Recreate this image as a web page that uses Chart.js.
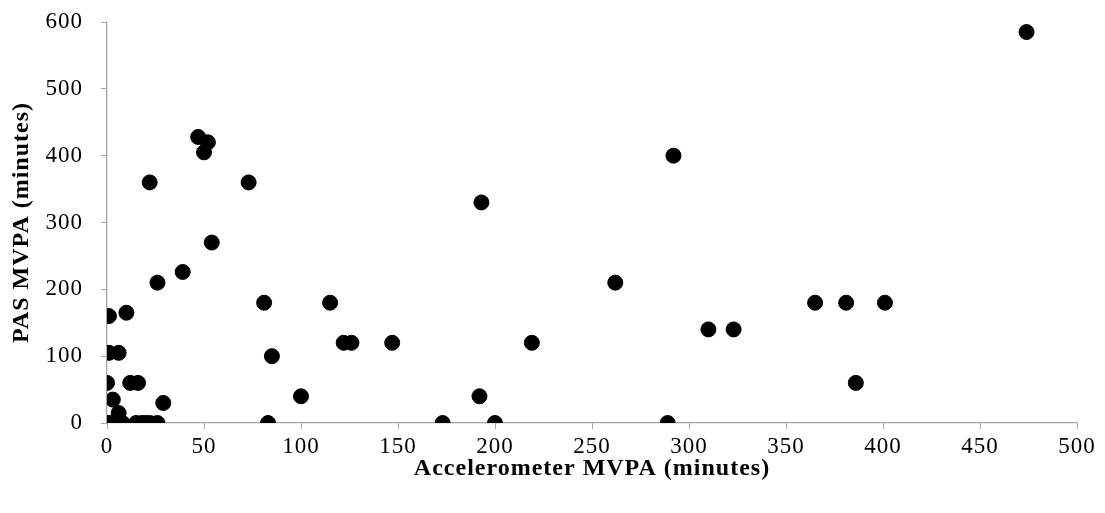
<!DOCTYPE html>
<html>
<head>
<meta charset="utf-8">
<script src="https://cdn.jsdelivr.net/npm/chart.js@4/dist/chart.umd.min.js"></script>
<style>
  html, body { margin: 0; padding: 0; background: #fff; }
  #wrap { width: 1105px; height: 513px; }
</style>
</head>
<body>
<div id="wrap"><canvas id="scatterChart"></canvas></div>
<script>
// Accelerometer MVPA (x) vs PAS MVPA (y), minutes
const accelMinutes = [
  474, 292, 47, 52, 50, 22, 73, 54, 39, 26, 81, 115, 1, 10,
  193, 262, 310, 323, 365, 381, 401, 386,
  1, 6, 85, 0, 12, 16, 3, 29, 6,
  122, 126, 147, 219, 100, 192,
  0, 2, 4, 6, 8, 15, 18, 20, 22, 26,
  83, 173, 200, 289
];
const pasMinutes = [
  585, 400, 428, 420, 405, 360, 360, 270, 226, 210, 180, 180, 160, 165,
  330, 210, 140, 140, 180, 180, 180, 60,
  105, 105, 100, 60, 60, 60, 35, 30, 15,
  120, 120, 120, 120, 40, 40,
  0, 0, 0, 0, 0, 0, 0, 0, 0, 0,
  0, 0, 0, 0
];
const xTicks = [0, 50, 100, 150, 200, 250, 300, 350, 400, 450, 500];
const yTicks = [0, 100, 200, 300, 400, 500, 600];

const points = accelMinutes.map((x, i) => ({ x: x, y: pasMinutes[i] }));
const axisGrey = '#a6a6a6';
const serif = "'Liberation Serif', 'Times New Roman', serif";

// the original text is a bit wider than Liberation Serif, spread the letters slightly
const wideText = {
  id: 'wideText',
  beforeLayout: (chart) => { chart.ctx.letterSpacing = '1px'; },
  beforeDraw: (chart) => { chart.ctx.letterSpacing = '1px'; }
};

new Chart(document.querySelector('#scatterChart'), {
  type: 'scatter',
  data: {
    datasets: [{
      label: 'PAS vs accelerometer',
      data: points,
      backgroundColor: '#000',
      borderColor: '#000',
      pointRadius: 7.5,
      pointHoverRadius: 7.5
    }]
  },
  plugins: [wideText],
  options: {
    responsive: true,
    maintainAspectRatio: false,
    animation: false,
    layout: { padding: { top: 22, right: 28, left: 10, bottom: 32 } },
    plugins: {
      legend: { display: false },
      tooltip: { enabled: false }
    },
    scales: {
      x: {
        type: 'linear',
        min: 0,
        max: 500,
        afterBuildTicks: (scale) => { scale.ticks = xTicks.map(v => ({ value: v })); },
        afterFit: (scale) => { scale.height = 58; },
        grid: { drawOnChartArea: false, drawTicks: true, tickLength: 6, color: axisGrey },
        border: { color: axisGrey, width: 1.3 },
        ticks: { color: '#000', padding: 6, font: { family: serif, size: 23, lineHeight: 1 } },
        title: {
          display: true,
          text: 'Accelerometer MVPA (minutes)',
          color: '#000',
          padding: { top: 0, bottom: 0 },
          font: { family: serif, size: 24, weight: 'bold', lineHeight: 1 }
        }
      },
      y: {
        type: 'linear',
        min: 0,
        max: 600,
        afterBuildTicks: (scale) => { scale.ticks = yTicks.map(v => ({ value: v })); },
        afterFit: (scale) => {
          scale.width = 97;
          scale.paddingTop = 0;
          scale.paddingBottom = 0;
        },
        grid: { drawOnChartArea: false, drawTicks: true, tickLength: 6, color: axisGrey },
        border: { color: axisGrey, width: 1.3 },
        ticks: { color: '#000', padding: 18, font: { family: serif, size: 23, lineHeight: 1 } },
        title: {
          display: true,
          text: 'PAS MVPA (minutes)',
          color: '#000',
          padding: { top: 0, bottom: 0 },
          font: { family: serif, size: 24, weight: 'bold', lineHeight: 1 }
        }
      }
    }
  }
});
</script>
</body>
</html>
